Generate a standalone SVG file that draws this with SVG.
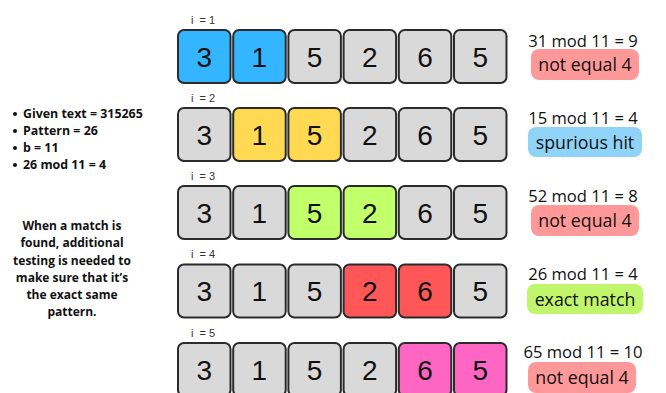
<svg xmlns="http://www.w3.org/2000/svg" width="666" height="393" viewBox="0 0 666 393">
<style>
.c{stroke:#2b2b2b;stroke-width:2;}
.g{fill:#d9d9d9}.bl{fill:#33b5ff}.ye{fill:#ffd952}.gr{fill:#c1ff6b}.rd{fill:#ff5757}.pk{fill:#ff66c4}
.d{font-family:"Liberation Sans",Arial,sans-serif;font-size:28px;fill:#111;text-anchor:middle}
.i{font-family:"Liberation Sans",Arial,sans-serif;font-size:11px;fill:#333;white-space:pre}
.m{font-family:"Open Sans","Liberation Sans",sans-serif;font-size:16.6px;fill:#111;text-anchor:middle}
.p{font-family:"Open Sans","Liberation Sans",sans-serif;font-size:17.8px;fill:#111;text-anchor:middle}
.l{font-family:"Open Sans","Liberation Sans",sans-serif;font-size:12.4px;font-weight:bold;fill:#111}
.lc{text-anchor:middle;font-size:12px}
</style>
<rect width="666" height="393" fill="#fff"/>
<g id="notes">
<circle cx="15" cy="114" r="2" fill="#111"/><text class="l" x="23" y="118">Given text = 315265</text>
<circle cx="15" cy="131" r="2" fill="#111"/><text class="l" x="23" y="135">Pattern = 26</text>
<circle cx="15" cy="148" r="2" fill="#111"/><text class="l" x="23" y="152">b = 11</text>
<circle cx="15" cy="165" r="2" fill="#111"/><text class="l" x="23" y="169">26 mod 11 = 4</text>
<text class="l lc" x="72" y="230">When a match is</text>
<text class="l lc" x="72" y="247">found, additional</text>
<text class="l lc" x="72" y="265">testing is needed to</text>
<text class="l lc" x="72" y="282">make sure that it’s</text>
<text class="l lc" x="72" y="299">the exact same</text>
<text class="l lc" x="72" y="316">pattern.</text>
</g>
<g id="connectors"></g>
<!-- Row 1 -->
<g id="row1">
<text class="i" x="191" y="24">i  = 1</text>
<g id="r1c1"><rect class="c bl" x="178" y="30" width="52.5" height="53" rx="6"/><text class="d" x="204.2" y="66.5">3</text></g>
<g id="r1c2"><rect class="c bl" x="233.2" y="30" width="52.5" height="53" rx="6"/><text class="d" x="259.4" y="66.5">1</text></g>
<g id="r1c3"><rect class="c g" x="288.4" y="30" width="52.5" height="53" rx="6"/><text class="d" x="314.6" y="66.5">5</text></g>
<g id="r1c4"><rect class="c g" x="343.6" y="30" width="52.5" height="53" rx="6"/><text class="d" x="369.8" y="66.5">2</text></g>
<g id="r1c5"><rect class="c g" x="398.8" y="30" width="52.5" height="53" rx="6"/><text class="d" x="425" y="66.5">6</text></g>
<g id="r1c6"><rect class="c g" x="454" y="30" width="52.5" height="53" rx="6"/><text class="d" x="480.2" y="66.5">5</text></g>
<text class="m" x="583" y="47">31 mod 11 = 9</text>
<rect x="531" y="49" width="108" height="31" rx="8" fill="#ff9999"/>
<text class="p" x="585" y="71">not equal 4</text>
</g>
<!-- Row 2 -->
<g id="row2">
<text class="i" x="191" y="102">i  = 2</text>
<g id="r2c1"><rect class="c g" x="178" y="108" width="52.5" height="53" rx="6"/><text class="d" x="204.2" y="144.5">3</text></g>
<g id="r2c2"><rect class="c ye" x="233.2" y="108" width="52.5" height="53" rx="6"/><text class="d" x="259.4" y="144.5">1</text></g>
<g id="r2c3"><rect class="c ye" x="288.4" y="108" width="52.5" height="53" rx="6"/><text class="d" x="314.6" y="144.5">5</text></g>
<g id="r2c4"><rect class="c g" x="343.6" y="108" width="52.5" height="53" rx="6"/><text class="d" x="369.8" y="144.5">2</text></g>
<g id="r2c5"><rect class="c g" x="398.8" y="108" width="52.5" height="53" rx="6"/><text class="d" x="425" y="144.5">6</text></g>
<g id="r2c6"><rect class="c g" x="454" y="108" width="52.5" height="53" rx="6"/><text class="d" x="480.2" y="144.5">5</text></g>
<text class="m" x="583" y="124">15 mod 11 = 4</text>
<rect x="528" y="127" width="114" height="30" rx="8" fill="#8fd3f7"/>
<text class="p" x="585" y="149">spurious hit</text>
</g>
<!-- Row 3 -->
<g id="row3">
<text class="i" x="191" y="180">i  = 3</text>
<g id="r3c1"><rect class="c g" x="178" y="186" width="52.5" height="53" rx="6"/><text class="d" x="204.2" y="222.5">3</text></g>
<g id="r3c2"><rect class="c g" x="233.2" y="186" width="52.5" height="53" rx="6"/><text class="d" x="259.4" y="222.5">1</text></g>
<g id="r3c3"><rect class="c gr" x="288.4" y="186" width="52.5" height="53" rx="6"/><text class="d" x="314.6" y="222.5">5</text></g>
<g id="r3c4"><rect class="c gr" x="343.6" y="186" width="52.5" height="53" rx="6"/><text class="d" x="369.8" y="222.5">2</text></g>
<g id="r3c5"><rect class="c g" x="398.8" y="186" width="52.5" height="53" rx="6"/><text class="d" x="425" y="222.5">6</text></g>
<g id="r3c6"><rect class="c g" x="454" y="186" width="52.5" height="53" rx="6"/><text class="d" x="480.2" y="222.5">5</text></g>
<text class="m" x="583" y="202">52 mod 11 = 8</text>
<rect x="531" y="205" width="108" height="31" rx="8" fill="#ff9999"/>
<text class="p" x="585" y="227">not equal 4</text>
</g>
<!-- Row 4 -->
<g id="row4">
<text class="i" x="191" y="258">i  = 4</text>
<g id="r4c1"><rect class="c g" x="178" y="264.5" width="52.5" height="53" rx="6"/><text class="d" x="204.2" y="301">3</text></g>
<g id="r4c2"><rect class="c g" x="233.2" y="264.5" width="52.5" height="53" rx="6"/><text class="d" x="259.4" y="301">1</text></g>
<g id="r4c3"><rect class="c g" x="288.4" y="264.5" width="52.5" height="53" rx="6"/><text class="d" x="314.6" y="301">5</text></g>
<g id="r4c4"><rect class="c rd" x="343.6" y="264.5" width="52.5" height="53" rx="6"/><text class="d" x="369.8" y="301">2</text></g>
<g id="r4c5"><rect class="c rd" x="398.8" y="264.5" width="52.5" height="53" rx="6"/><text class="d" x="425" y="301">6</text></g>
<g id="r4c6"><rect class="c g" x="454" y="264.5" width="52.5" height="53" rx="6"/><text class="d" x="480.2" y="301">5</text></g>
<text class="m" x="583" y="280">26 mod 11 = 4</text>
<rect x="527" y="284" width="116" height="30" rx="8" fill="#c1f56b"/>
<text class="p" x="585" y="306">exact match</text>
</g>
<!-- Row 5 -->
<g id="row5">
<text class="i" x="191" y="337">i  = 5</text>
<g id="r5c1"><rect class="c g" x="178" y="343" width="52.5" height="53" rx="6"/><text class="d" x="204.2" y="379.5">3</text></g>
<g id="r5c2"><rect class="c g" x="233.2" y="343" width="52.5" height="53" rx="6"/><text class="d" x="259.4" y="379.5">1</text></g>
<g id="r5c3"><rect class="c g" x="288.4" y="343" width="52.5" height="53" rx="6"/><text class="d" x="314.6" y="379.5">5</text></g>
<g id="r5c4"><rect class="c g" x="343.6" y="343" width="52.5" height="53" rx="6"/><text class="d" x="369.8" y="379.5">2</text></g>
<g id="r5c5"><rect class="c pk" x="398.8" y="343" width="52.5" height="53" rx="6"/><text class="d" x="425" y="379.5">6</text></g>
<g id="r5c6"><rect class="c pk" x="454" y="343" width="52.5" height="53" rx="6"/><text class="d" x="480.2" y="379.5">5</text></g>
<text class="m" x="583" y="358">65 mod 11 = 10</text>
<rect x="528" y="362" width="108" height="31" rx="8" fill="#ff9999"/>
<text class="p" x="582" y="384">not equal 4</text>
</g>
</svg>
